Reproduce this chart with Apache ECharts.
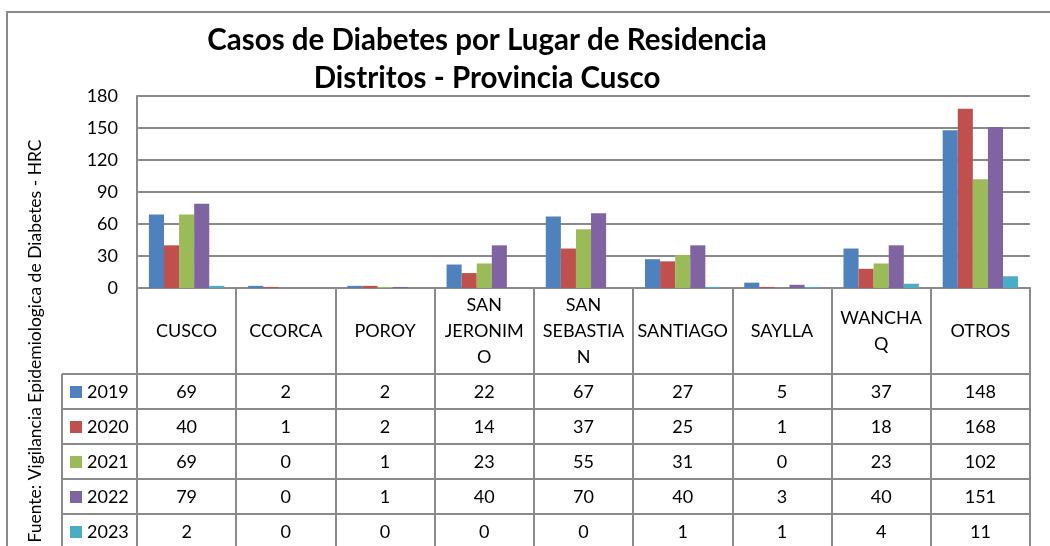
<!DOCTYPE html>
<html>
<head>
<meta charset="utf-8">
<script src="https://cdn.jsdelivr.net/npm/echarts@6/dist/echarts.min.js"></script>
<style>
  html, body { margin: 0; padding: 0; background: #fff; }
  #chart { width: 1050px; height: 546px; }
</style>
</head>
<body>
<div id="chart"></div>
<script>
// datos
var categories = ['CUSCO', 'CCORCA', 'POROY', 'SAN\nJERONIM\nO', 'SAN\nSEBASTIA\nN', 'SANTIAGO', 'SAYLLA', 'WANCHA\nQ', 'OTROS'];
var years = ['2019', '2020', '2021', '2022', '2023'];
var casos2019 = [69, 2, 2, 22, 67, 27, 5, 37, 148];
var casos2020 = [40, 1, 2, 14, 37, 25, 1, 18, 168];
var casos2021 = [69, 0, 1, 23, 55, 31, 0, 23, 102];
var casos2022 = [79, 0, 1, 40, 70, 40, 3, 40, 151];
var casos2023 = [2, 0, 0, 0, 0, 1, 1, 4, 11];
var yTicks = [0, 30, 60, 90, 120, 150, 180];

var seriesData = [casos2019, casos2020, casos2021, casos2022, casos2023];
var colors = ['#4F81BD', '#C0504D', '#9BBB59', '#8064A2', '#4BACC6'];
var FONT = 'Lato, "Noto Sans", sans-serif';
var lineColor = '#8a8a8a';

var myChart = echarts.init(document.getElementById('chart'));

// ejes extra: una fila de la tabla por año
var tableAxes = years.map(function (y, i) {
  return {
    type: 'category',
    gridIndex: 0,
    position: 'bottom',
    offset: 86 + 35 * i,
    data: categories,
    axisLine: { show: true, lineStyle: { color: lineColor, width: 2 } },
    axisTick: { show: false },
    axisLabel: {
      interval: 0,
      margin: 18,
      verticalAlign: 'middle',
      fontFamily: FONT,
      fontSize: 18,
      color: '#000',
      formatter: function (v, idx) { return String(seriesData[i][idx]); }
    }
  };
});

// lineas de la columna de la leyenda
var legendLines = [];
for (var r = 0; r < 6; r++) {
  legendLines.push({
    type: 'line',
    shape: { x1: 62, y1: 374 + 35 * r, x2: 137, y2: 374 + 35 * r },
    style: { stroke: lineColor, lineWidth: 2 }
  });
}
legendLines.push({
  type: 'line',
  shape: { x1: 62, y1: 374, x2: 62, y2: 560 },
  style: { stroke: lineColor, lineWidth: 2 }
});

myChart.setOption({
  animation: false,
  color: colors,
  grid: { left: 137, top: 96, width: 893, height: 192, containLabel: false },
  legend: years.map(function (y, i) {
    return {
      data: [y],
      left: 65,
      top: 374 + 35 * i + 4,
      padding: 5,
      icon: 'rect',
      itemWidth: 12,
      itemHeight: 12,
      selectedMode: false,
      textStyle: { fontFamily: FONT, fontSize: 18, color: '#000' }
    };
  }),
  xAxis: [
    {
      type: 'category',
      data: categories,
      axisLine: { show: true, lineStyle: { color: lineColor, width: 2 } },
      axisTick: { show: true, interval: 0, length: 270, lineStyle: { color: lineColor, width: 2 } },
      axisLabel: {
        interval: 0,
        margin: 43,
        verticalAlign: 'middle',
        lineHeight: 26,
        fontFamily: FONT,
        fontSize: 18,
        color: '#000'
      }
    }
  ].concat(tableAxes),
  yAxis: {
    type: 'value',
    min: yTicks[0],
    max: yTicks[yTicks.length - 1],
    interval: 30,
    axisLine: { show: true, lineStyle: { color: lineColor, width: 2 } },
    axisTick: { show: false },
    axisLabel: { margin: 19, fontFamily: FONT, fontSize: 18, color: '#000' },
    splitLine: { lineStyle: { color: lineColor, width: 2 } }
  },
  series: years.map(function (y, i) {
    return {
      name: y,
      type: 'bar',
      xAxisIndex: 0,
      barGap: '0%',
      barCategoryGap: '24%',
      data: seriesData[i]
    };
  }),
  graphic: [
    {
      type: 'rect',
      shape: { x: 7, y: 12, width: 1100, height: 600 },
      style: { fill: 'none', stroke: lineColor, lineWidth: 2 },
      silent: true
    },
    {
      type: 'text',
      x: 487,
      y: 59,
      style: {
        text: 'Casos de Diabetes por Lugar de Residencia\nDistritos - Provincia Cusco',
        align: 'center',
        verticalAlign: 'middle',
        lineHeight: 38,
        font: 'bold 29.5px ' + FONT,
        fill: '#000'
      }
    },
    {
      type: 'text',
      x: 35,
      y: 341,
      rotation: Math.PI / 2,
      style: {
        text: 'Fuente: Vigilancia Epidemiologica de Diabetes - HRC',
        align: 'center',
        verticalAlign: 'middle',
        font: '17.5px ' + FONT,
        fill: '#000'
      }
    }
  ].concat(legendLines)
});
</script>
</body>
</html>
